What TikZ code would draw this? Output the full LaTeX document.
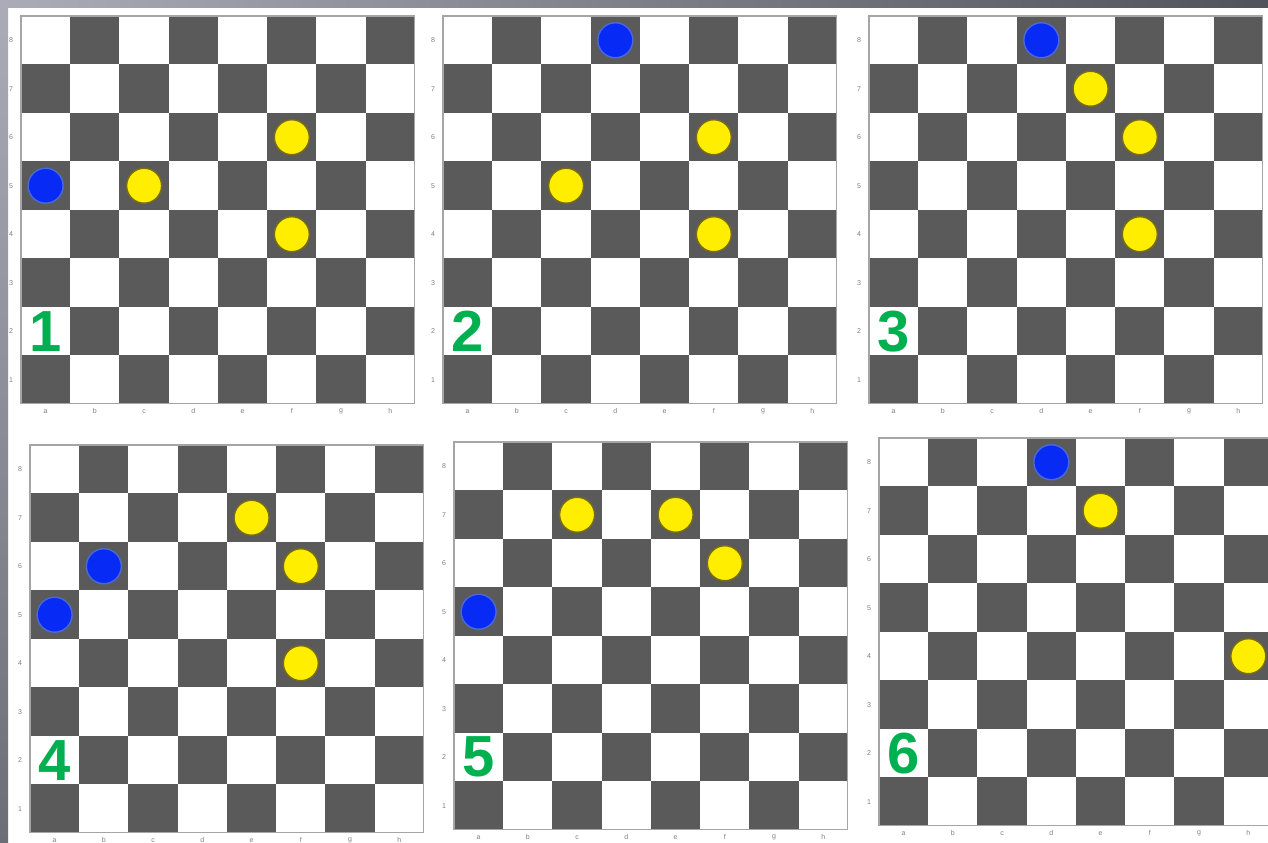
\documentclass[tikz,border=0pt]{standalone}
\usepackage{fontspec}
\setmainfont{Liberation Sans}
\usepackage{xcolor}
\usepackage{tikz}
\definecolor{darksquare}{RGB}{90,90,90}
\definecolor{boardedge}{RGB}{165,165,165}
\definecolor{blueman}{RGB}{8,42,245}
\definecolor{blueedge}{RGB}{75,105,215}
\definecolor{yellowman}{RGB}{255,238,0}
\definecolor{yellowedge}{RGB}{120,108,20}
\definecolor{stepgreen}{RGB}{0,176,80}
\definecolor{framelight}{RGB}{172,172,184}
\definecolor{framedark}{RGB}{82,82,92}

\begin{document}
\begin{tikzpicture}[x=0.02cm, y=-0.02cm,
          sqdark/.style={fill=darksquare, draw=none},
          boardline/.style={draw=boardedge, line width=0.6pt},
          nodeblue/.style={circle, fill=blueman, draw=blueedge, line width=0.8pt, minimum size=0.7cm, inner sep=0pt},
          nodeyellow/.style={circle, fill=yellowman, draw=yellowedge, line width=0.8pt, minimum size=0.7cm, inner sep=0pt},
          stepnum/.style={text=stepgreen, font=\fontsize{33}{33}\selectfont\bfseries, inner sep=0pt},
          axislabel/.style={text=gray, font=\fontsize{4}{4}\selectfont, inner sep=0pt}
        ]
          \useasboundingbox (0,0) rectangle (1268,842);
          \clip (0,0) rectangle (1268,842);

          % Background with grey frame strips
          \fill[white] (0,0) rectangle (1268,842);
          \shade[left color=framelight, right color=framedark] (0,0) rectangle (1268,7);
          \shade[top color=framelight, bottom color=framedark!70!framelight] (0,0) rectangle (8,842);

          % Boards
          \foreach \bx/\by/\bnum in {21/16/1, 443/16/2, 869/16/3, 30/445/4, 454/442/5, 879/438/6} {
            \begin{scope}[shift={(\bx,\by)}, x=0.985cm, y=-0.97cm]
              \foreach \file [count=\i from 0] in {a,b,c,d,e,f,g,h} {
                \foreach \rank in {1,...,8} {
                  \ifodd\numexpr\i+\rank\relax
                    \fill[sqdark] (\i,8-\rank) rectangle +(1,1);
                  \fi
                  \coordinate (b\bnum-\file\rank) at (\i+0.5,8.5-\rank);
                }
                \node[axislabel] at (\i+0.5,8.15) {\file};
              }
              \foreach \rank in {1,...,8}
                \node[axislabel] at (-0.2,8.5-\rank) {\rank};
              \draw[boardline] (0,0) rectangle (8,8);
              \node[stepnum] (num\bnum) at (0.5,6.5) {\bnum};
            \end{scope}
          }

          % Board 1
          \node[nodeblue] (blue1a) at (b1-a5) {};
          \node[nodeyellow] (yel1a) at (b1-c5) {};
          \node[nodeyellow] (yel1b) at (b1-f6) {};
          \node[nodeyellow] (yel1c) at (b1-f4) {};

          % Board 2
          \node[nodeblue] (blue2a) at (b2-d8) {};
          \node[nodeyellow] (yel2a) at (b2-c5) {};
          \node[nodeyellow] (yel2b) at (b2-f6) {};
          \node[nodeyellow] (yel2c) at (b2-f4) {};

          % Board 3
          \node[nodeblue] (blue3a) at (b3-d8) {};
          \node[nodeyellow] (yel3a) at (b3-e7) {};
          \node[nodeyellow] (yel3b) at (b3-f6) {};
          \node[nodeyellow] (yel3c) at (b3-f4) {};

          % Board 4
          \node[nodeblue] (blue4a) at (b4-a5) {};
          \node[nodeblue] (blue4b) at (b4-b6) {};
          \node[nodeyellow] (yel4a) at (b4-e7) {};
          \node[nodeyellow] (yel4b) at (b4-f6) {};
          \node[nodeyellow] (yel4c) at (b4-f4) {};

          % Board 5
          \node[nodeblue] (blue5a) at (b5-a5) {};
          \node[nodeyellow] (yel5a) at (b5-c7) {};
          \node[nodeyellow] (yel5b) at (b5-e7) {};
          \node[nodeyellow] (yel5c) at (b5-f6) {};

          % Board 6
          \node[nodeblue] (blue6a) at (b6-d8) {};
          \node[nodeyellow] (yel6a) at (b6-e7) {};
          \node[nodeyellow] (yel6b) at (b6-h4) {};
        \end{tikzpicture}
\end{document}
